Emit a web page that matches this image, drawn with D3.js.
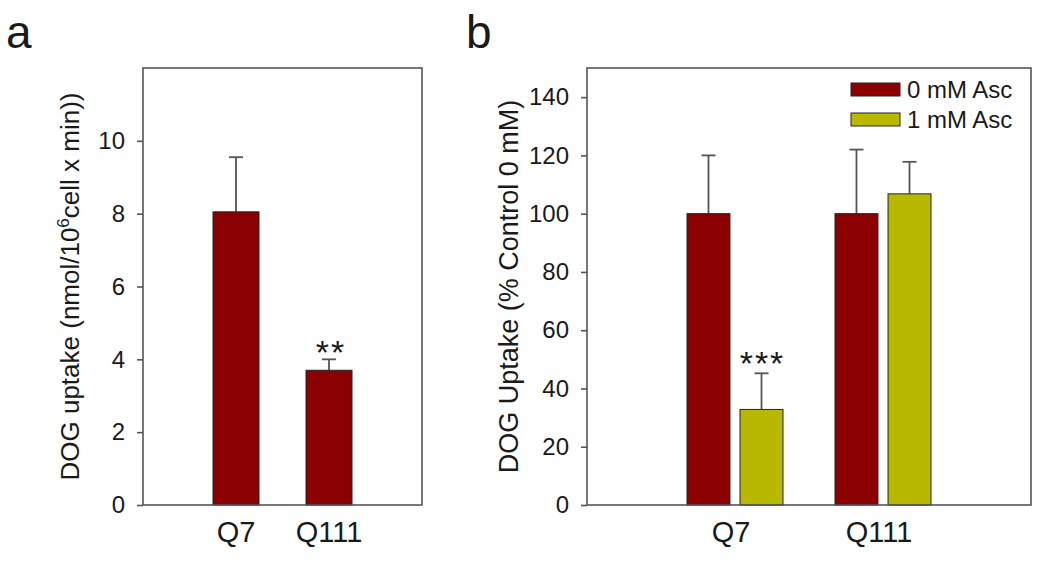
<!DOCTYPE html>
<html><head><meta charset="utf-8">
<script src="https://cdn.jsdelivr.net/npm/d3@7"></script>
<style>
body{margin:0;background:#fff;}
text{font-family:"Liberation Sans",Arial,sans-serif;fill:#1a1a1a;}
</style></head>
<body><svg id="c" width="1050" height="565"></svg>
<script>
// Panel a data
const catsA = ["Q7", "Q111"];
const valsA = [8.05, 3.7];
const errA = [1.5, 0.3];
const sigA = ["", "**"];
const ticksA = [0, 2, 4, 6, 8, 10];

// Panel b data
const catsB = ["Q7", "Q111"];
const seriesB = ["0 mM Asc", "1 mM Asc"];
const valsB0 = [100, 100];
const errB0 = [20, 22];
const valsB1 = [32.8, 106.8];
const errB1 = [12.4, 11];
const sigB1 = ["***", ""];
const ticksB = [0, 20, 40, 60, 80, 100, 120, 140];

const colors = ["#8b0000", "#b8b800"];
const svg = d3.select("#c");
const frameCol = "#555";

function frame(g, x0, x1, y0, y1) {
  g.append("rect").attr("x", x0).attr("y", y0).attr("width", x1 - x0).attr("height", y1 - y0)
    .attr("fill", "none").attr("stroke", frameCol).attr("stroke-width", 1.6);
}
function yAxis(g, y, ticks, x0) {
  const ax = d3.axisLeft(y).tickValues(ticks).tickSize(6).tickPadding(12);
  const a = g.append("g").attr("transform", `translate(${x0},0)`).call(ax);
  a.select(".domain").remove();
  a.selectAll("line").attr("stroke", frameCol).attr("stroke-width", 1.6);
  a.selectAll("text").attr("font-size", 24).attr("font-family", "Liberation Sans, Arial, sans-serif").attr("fill", "#1a1a1a");
}
function errBar(g, cx, yTop, yVal) {
  g.append("line").attr("x1", cx).attr("x2", cx).attr("y1", yTop).attr("y2", yVal)
    .attr("stroke", frameCol).attr("stroke-width", 1.8);
  g.append("line").attr("x1", cx - 7).attr("x2", cx + 7).attr("y1", yTop).attr("y2", yTop)
    .attr("stroke", frameCol).attr("stroke-width", 1.8);
}

const plotTop = 68, plotBottom = 505;

// ---------- Panel a ----------
{
  const x0 = 143, x1 = 422;
  const g = svg.append("g");
  const y = d3.scaleLinear().domain([0, 12]).range([plotBottom, plotTop]);
  const x = d3.scalePoint().domain(catsA).range([x0, x1]).padding(1);
  const bw = 46;
  catsA.forEach((c, i) => {
    errBar(g, x(c), y(valsA[i] + errA[i]), y(valsA[i]));
    g.append("rect").attr("x", x(c) - bw / 2).attr("y", y(valsA[i]))
      .attr("width", bw).attr("height", y(0) - y(valsA[i]))
      .attr("fill", colors[0]).attr("stroke", "#222").attr("stroke-width", 1);
    if (sigA[i]) g.append("text").attr("x", x(c) + 2).attr("y", y(valsA[i] + errA[i]) + 5)
      .attr("text-anchor", "middle").attr("font-size", 34).attr("letter-spacing", 2).attr("fill", "#333").text(sigA[i]);
    g.append("text").attr("x", x(c)).attr("y", 542).attr("text-anchor", "middle").attr("font-size", 29).text(c);
  });
  frame(g, x0, x1, plotTop, plotBottom);
  yAxis(g, y, ticksA, x0);
  const t = g.append("text").attr("transform", `translate(70,${(plotTop + plotBottom) / 2}) rotate(-90)`)
    .attr("text-anchor", "middle").attr("dy", "0.35em").attr("font-size", 26);
  t.append("tspan").text("DOG uptake (nmol/10");
  t.append("tspan").attr("font-size", 17).attr("dy", "-0.6em").text("6");
  t.append("tspan").attr("dy", "0.4em").text("cell x min))");
  g.append("text").attr("x", 6).attr("y", 48).attr("font-size", 46).text("a");
}

// ---------- Panel b ----------
{
  const x0 = 587, x1 = 1031;
  const g = svg.append("g");
  const y = d3.scaleLinear().domain([0, 150]).range([plotBottom, plotTop]);
  const x = d3.scaleBand().domain(catsB).range([x0 + 74, x1 - 74]);
  const xi = d3.scaleBand().domain(seriesB).range([-48, 48]).paddingInner(0.19);
  const vals = [valsB0, valsB1], errs = [errB0, errB1];
  catsB.forEach((c, i) => {
    const cx = x(c) + x.bandwidth() / 2;
    seriesB.forEach((s, j) => {
      const v = vals[j][i], e = errs[j][i];
      const bx = cx + xi(s);
      errBar(g, bx + xi.bandwidth() / 2, y(v + e), y(v));
      g.append("rect").attr("x", bx).attr("y", y(v)).attr("width", xi.bandwidth())
        .attr("height", y(0) - y(v)).attr("fill", colors[j]).attr("stroke", "#222").attr("stroke-width", 1);
      if (j === 1 && sigB1[i]) g.append("text").attr("x", bx + xi.bandwidth() / 2 + 1).attr("y", y(v + e) + 2)
        .attr("text-anchor", "middle").attr("font-size", 34).attr("letter-spacing", 2).attr("fill", "#333").text(sigB1[i]);
    });
    g.append("text").attr("x", cx - 4).attr("y", 542).attr("text-anchor", "middle").attr("font-size", 29).text(c);
  });
  frame(g, x0, x1, plotTop, plotBottom);
  yAxis(g, y, ticksB, x0);
  g.append("text").attr("transform", `translate(509,${(plotTop + plotBottom) / 2}) rotate(-90)`)
    .attr("text-anchor", "middle").attr("dy", "0.35em").attr("font-size", 27).text("DOG Uptake (% Control 0 mM)");
  g.append("text").attr("x", 466).attr("y", 48).attr("font-size", 46).text("b");
  // legend
  const lg = g.append("g");
  seriesB.forEach((s, j) => {
    lg.append("rect").attr("x", 851).attr("y", 83 + j * 30).attr("width", 49).attr("height", 13)
      .attr("fill", colors[j]).attr("stroke", "#222").attr("stroke-width", 1);
    lg.append("text").attr("x", 907).attr("y", 98 + j * 30).attr("font-size", 24).text(s);
  });
}
</script></body></html>
